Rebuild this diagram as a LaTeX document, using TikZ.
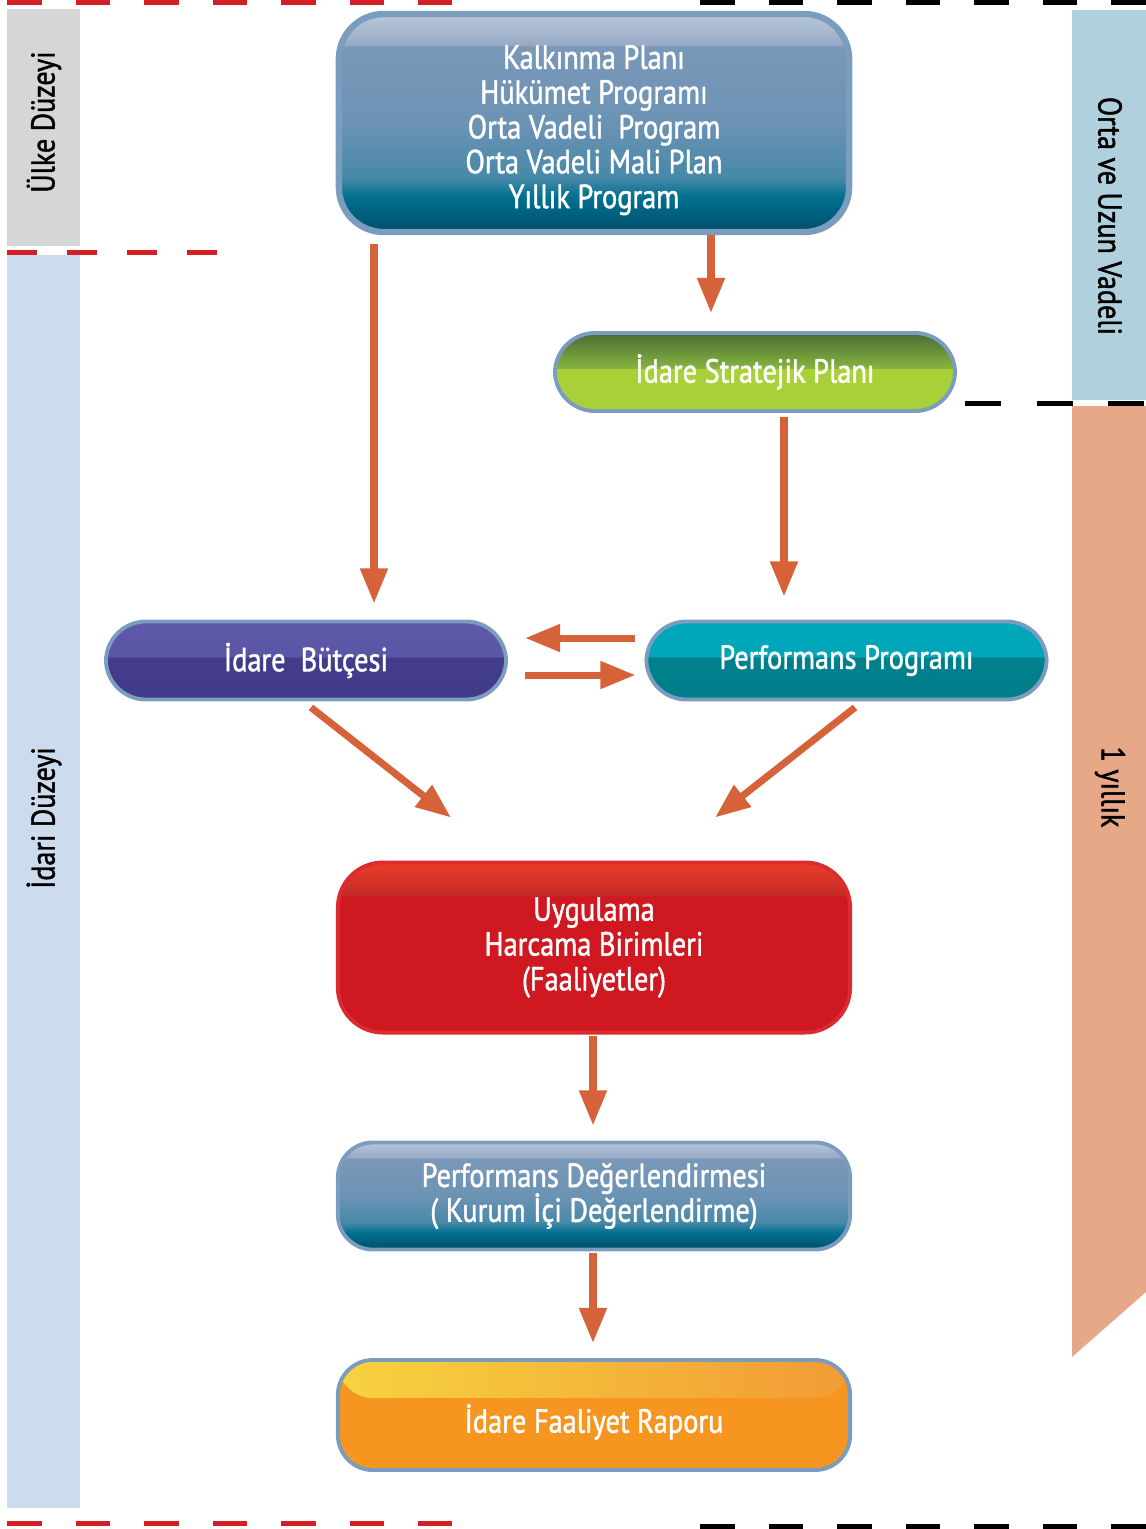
\documentclass[tikz,border=0pt]{standalone}
\usepackage{fontspec}
\setmainfont{PT Sans}[FakeStretch=0.85,FakeBold=1.3]
\usepackage{xcolor}
\definecolor{okrenk}{HTML}{D6623A}
\definecolor{kenar}{HTML}{7A9CBF}
\definecolor{gri}{HTML}{D5D6D8}
\definecolor{acikmavi}{HTML}{CCDBED}
\definecolor{gokmavi}{HTML}{B0D0DE}
\definecolor{somon}{HTML}{E7A888}
\definecolor{kirmizi}{HTML}{D51F26}
\definecolor{kirmizikenar}{HTML}{DC2B30}
\definecolor{sari}{HTML}{F7D33F}
\definecolor{turuncu}{HTML}{F6951F}
\definecolor{turuncuust}{HTML}{F29B36}
% cam dolgu renkleri
\definecolor{mv1}{HTML}{BAC7DA}
\definecolor{mv2}{HTML}{97AAC5}
\definecolor{mv3}{HTML}{7A98B8}
\definecolor{mv4}{HTML}{6C93B4}
\definecolor{mv5}{HTML}{4788A8}
\definecolor{mv6}{HTML}{00708F}
\definecolor{mv7}{HTML}{004E6C}
\definecolor{ys1}{HTML}{4A6C35}
\definecolor{ys2}{HTML}{86B33F}
\definecolor{ys3}{HTML}{A9D039}
\definecolor{mr1}{HTML}{5E59A8}
\definecolor{mr2}{HTML}{5A55A5}
\definecolor{mr3}{HTML}{433C8B}
\definecolor{mr4}{HTML}{413A89}
\definecolor{cg1}{HTML}{00A8BA}
\definecolor{cg2}{HTML}{00A5B8}
\definecolor{cg3}{HTML}{007F8C}
\definecolor{cg4}{HTML}{007E8A}
\definecolor{kr1}{HTML}{EC3D27}
\definecolor{kr2}{HTML}{C42B27}
\definecolor{kr3}{HTML}{CF1820}
\usetikzlibrary{arrows.meta,calc}

% parlak kutu dolgulari (alttan uste)
\pgfdeclareverticalshading{mavicam}{100bp}{color(0bp)=(mv7); color(25bp)=(mv7);
  color(33bp)=(mv6); color(37.5bp)=(mv5); color(50bp)=(mv4);
  color(67.5bp)=(mv3); color(68bp)=(mv2); color(75bp)=(mv1); color(100bp)=(mv1)}
\pgfdeclareverticalshading{yesilcam}{100bp}{color(0bp)=(ys3); color(52bp)=(ys3);
  color(52.5bp)=(ys2); color(75bp)=(ys1); color(100bp)=(ys1)}
\pgfdeclareverticalshading{morcam}{100bp}{color(0bp)=(mr4); color(52bp)=(mr3);
  color(52.5bp)=(mr2); color(75bp)=(mr1); color(100bp)=(mr1)}
\pgfdeclareverticalshading{camgobegi}{100bp}{color(0bp)=(cg4); color(52bp)=(cg3);
  color(52.5bp)=(cg2); color(75bp)=(cg1); color(100bp)=(cg1)}
\pgfdeclareverticalshading{kirmizicam}{100bp}{color(0bp)=(kr3); color(65bp)=(kr3);
  color(65.5bp)=(kr2); color(75bp)=(kr1); color(100bp)=(kr1)}

\newcommand{\ustpay}[1]{\rule{0pt}{#1}}
\newcommand{\sikisatir}{\lineskiplimit=-6pt\relax}

\begin{document}
\begin{tikzpicture}[x=0.01cm,y=-0.01cm,
  font=\fontsize{9.5}{9.9}\selectfont\sikisatir,
  kutu/.style={rectangle,rounded corners=0.4cm,draw=kenar,line width=1.1pt,text=white,align=center,inner sep=0pt},
  ustkutu/.style={kutu,shading=mavicam,line width=1.8pt,rounded corners=0.45cm,minimum width=5.1cm,minimum height=2.18cm},
  hap/.style={kutu,minimum width=4cm,minimum height=0.78cm},
  genis/.style={kutu,minimum width=5.12cm},
  yan/.style={font=\fontsize{9.4}{10}\selectfont,text=black,inner sep=0pt},
  arr/.style={draw=okrenk,line width=2pt,-{Triangle[length=10pt,width=7.5pt]}},
  kesik/.style={line width=0.05cm,dash pattern=on 0.345cm off 0.34cm}
]
\useasboundingbox (0,0) rectangle (1146,1529);

% yan seritler
\fill[gri] (7,9) rectangle (80,246);
\fill[acikmavi] (7,255) rectangle (80,1508);
\fill[gokmavi] (1072,10) rectangle (1146,400);
\fill[somon] (1072,406) -- (1146,406) -- (1146,1292) -- (1072,1357) -- cycle;
\node[yan,rotate=90] (ulke) at (44,122) {Ülke Düzeyi};
\node[yan,rotate=90] (idari) at (44,818) {İdari Düzeyi};
\node[yan,rotate=-90] (vade) at (1110,216) {Orta ve Uzun Vadeli};
\node[yan,rotate=-90] (yil) at (1110,787) {1 yıllık};

% kesik cizgiler
\draw[kesik,kirmizi] (7,2) -- (452,2);
\draw[kesik,kirmizi] (7,1523) -- (452,1523);
\draw[kesik,black] (700,2) -- (1146,2);
\draw[kesik,black] (700,1526) -- (1146,1526);
\draw[kirmizi,line width=0.05cm,dash pattern=on 0.3cm off 0.3cm] (7,252) -- (217,252);
\draw[black,line width=0.05cm,dash pattern=on 0.36cm off 0.355cm] (965,403) -- (1146,403);

% kutular
\node[ustkutu] (plan) at (594,123) {\ustpay{10.8pt}Kalkınma Planı\\Hükümet Programı\\Orta Vadeli~ Program\\Orta Vadeli Mali Plan\\Yıllık Program};
\node[hap,shading=yesilcam] (stratejik) at (755,372) {İdare Stratejik Planı};
\node[hap,shading=morcam] (butce) at (306,660.5) {İdare~ Bütçesi};
\node[hap,shading=camgobegi] (perfprog) at (846.5,660.5) {Performans Programı};
\node[genis,shading=kirmizicam,draw=kirmizikenar,minimum height=1.7cm,rounded corners=0.45cm] (uygulama) at (594,947.5) {Uygulama\\Harcama Birimleri\\(Faaliyetler)};
\node[genis,shading=mavicam,minimum height=1.07cm,rounded corners=0.35cm] (degerlendirme) at (594,1196) {Performans Değerlendirmesi\\( Kurum İçi Değerlendirme)};
\node[genis,fill=turuncu,minimum height=1.1cm,rounded corners=0.35cm,
  path picture={\fill[left color=sari,right color=turuncuust] (path picture bounding box.north west) rectangle ($(path picture bounding box.north east)+(0,38)$);}] (rapor) at (594,1415) {\ustpay{12pt}İdare Faaliyet Raporu};

% oklar
\draw[arr] ($(plan.south)+(-220,9)$) -- ($(butce.north)+(68,-16)$);
\draw[arr] ($(plan.south)+(117,0)$) -- ($(stratejik.north)+(-44,-18)$);
\draw[arr] ($(stratejik.south)+(29,4)$) -- ($(perfprog.north)+(-62.5,-23)$);
\draw[arr] ($(perfprog.west)+(-9,-22.5)$) -- ($(butce.east)+(17,-22.5)$);
\draw[arr] ($(butce.east)+(17,14.5)$) -- ($(perfprog.west)+(-9,14.5)$);
\draw[arr] ($(butce.south)+(5,6)$) -- ($(uygulama.north)+(-143,-43)$);
\draw[arr] ($(perfprog.south)+(8.5,6)$) -- ($(uygulama.north)+(121,-43)$);
\draw[arr] ($(uygulama.south)+(-1,1)$) -- ($(degerlendirme.north)+(-1,-15)$);
\draw[arr] ($(degerlendirme.south)+(-1,2)$) -- ($(rapor.north)+(-1,-15)$);
\end{tikzpicture}
\end{document}
